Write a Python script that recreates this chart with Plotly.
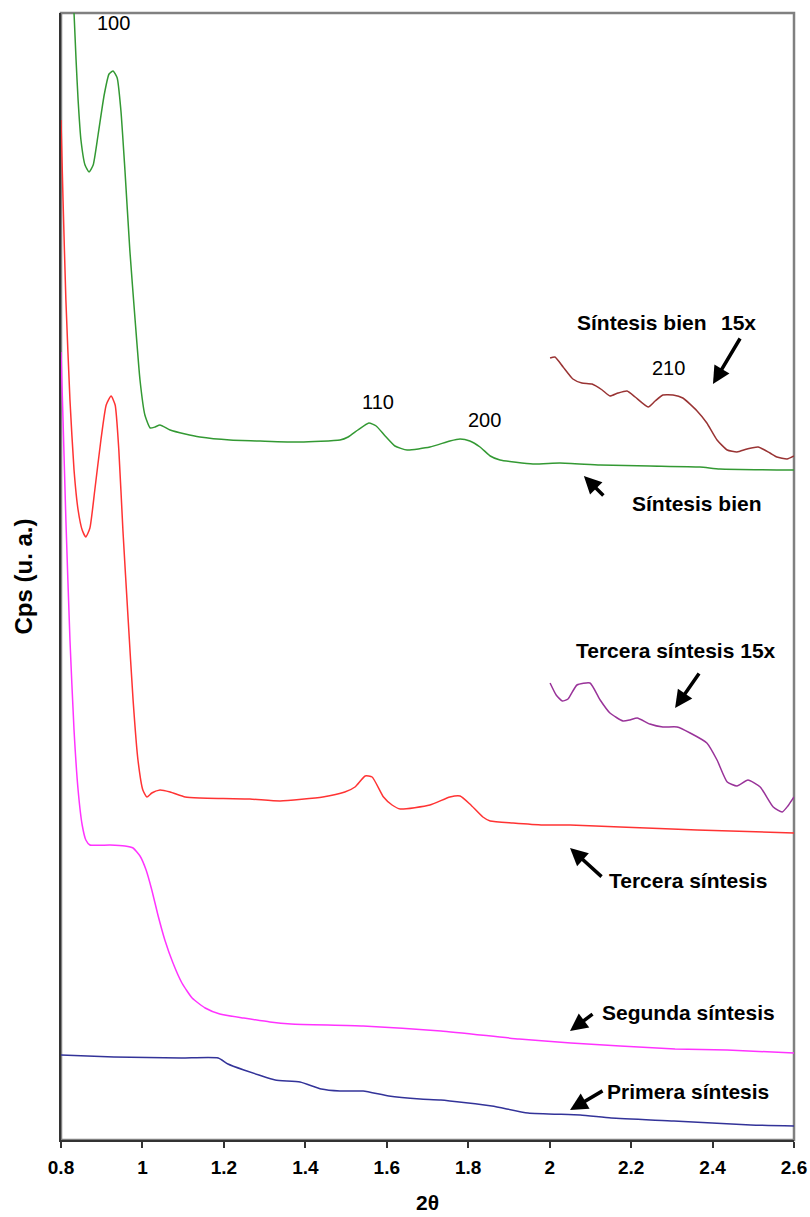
import plotly.graph_objects as go

# 2-theta values and intensities (arbitrary units)
bien_x = [0.832, 0.837, 0.842, 0.849, 0.859, 0.869, 0.879, 0.891, 0.906, 0.918, 0.928, 0.938,
          0.947, 0.957, 0.969, 0.982, 0.994, 1.006, 1.019, 1.031, 1.043, 1.068, 1.105, 1.141,
          1.215, 1.289, 1.387, 1.485, 1.505, 1.529, 1.556, 1.574, 1.596, 1.620, 1.650, 1.706,
          1.755, 1.780, 1.804, 1.829, 1.854, 1.878, 1.959, 2.025, 2.124, 2.246, 2.369, 2.418, 2.600]
bien_y = [1127, 1080, 1040, 1000, 975, 968, 975, 1005, 1045, 1066, 1069, 1062,
          1030, 970, 890, 820, 760, 725, 712, 713, 715, 710, 706, 703,
          700, 699, 698, 700, 703, 710, 717, 714, 704, 694, 690, 693,
          699, 701, 699, 693, 684, 680, 676, 677, 675, 674, 673, 671, 670]

tercera_x = [0.800, 0.805, 0.812, 0.822, 0.832, 0.842, 0.852, 0.861, 0.871, 0.883, 0.898, 0.911,
             0.923, 0.933, 0.942, 0.952, 0.965, 0.977, 0.989, 1.001, 1.011, 1.023, 1.043, 1.068,
             1.105, 1.141, 1.264, 1.338, 1.443, 1.497, 1.522, 1.547, 1.564, 1.592, 1.613, 1.633,
             1.706, 1.755, 1.780, 1.804, 1.836, 1.854, 1.910, 1.984, 2.050, 2.173, 2.362, 2.600]
tercera_y = [1020, 940, 840, 740, 670, 630, 610, 603, 612, 650, 700, 735,
             744, 735, 690, 610, 520, 440, 380, 350, 343, 347, 350, 348,
             343, 342, 341, 339, 343, 348, 353, 364, 363, 343, 335, 331,
             335, 343, 344, 336, 323, 319, 317, 315, 315, 313, 310, 307]

segunda_x = [0.800, 0.805, 0.812, 0.822, 0.832, 0.842, 0.852, 0.861, 0.871, 0.920, 0.957, 0.977,
             0.994, 1.009, 1.023, 1.038, 1.055, 1.075, 1.097, 1.122, 1.154, 1.190, 1.249, 1.313,
             1.365, 1.542, 1.733, 1.925, 2.052, 2.173, 2.308, 2.436, 2.600]
segunda_y = [788, 720, 620, 500, 410, 350, 315, 300, 295, 295, 294, 292,
             284, 270, 250, 225, 200, 177, 157, 142, 132, 126, 122, 118,
             116, 114, 109, 101, 97, 94, 91, 90, 87]

primera_x = [0.800, 0.930, 1.095, 1.186, 1.210, 1.249, 1.286, 1.326, 1.387, 1.439, 1.485, 1.542,
             1.605, 1.682, 1.733, 1.858, 1.947, 2.075, 2.151, 2.305, 2.494, 2.600]
primera_y = [85, 83, 82, 82, 76, 70, 65, 60, 58, 51, 49, 49,
             44, 41, 40, 34, 27, 25, 22, 19, 15, 14]

# 15x magnified tails
bien15_x = [2.001, 2.013, 2.033, 2.057, 2.079, 2.104, 2.129, 2.148, 2.168, 2.190, 2.210, 2.242,
            2.259, 2.278, 2.303, 2.327, 2.362, 2.386, 2.411, 2.436, 2.460, 2.485, 2.512, 2.541,
            2.558, 2.583, 2.600]
bien15_y = [782, 783, 773, 761, 757, 756, 750, 744, 747, 749, 743, 733,
            739, 745, 745, 742, 729, 717, 700, 690, 688, 691, 693, 687,
            683, 681, 684]

tercera15_x = [2.001, 2.016, 2.031, 2.045, 2.067, 2.099, 2.124, 2.148, 2.180, 2.197, 2.215, 2.246,
               2.278, 2.313, 2.345, 2.386, 2.411, 2.436, 2.460, 2.487, 2.517, 2.549, 2.571, 2.585,
               2.600]
tercera15_y = [457, 445, 439, 441, 455, 457, 440, 427, 419, 420, 422, 416,
               413, 413, 407, 397, 380, 358, 354, 360, 353, 333, 328, 334,
               343]

x_ticks = [0.8, 1.0, 1.2, 1.4, 1.6, 1.8, 2.0, 2.2, 2.4, 2.6]
x_tick_text = ['0.8', '1', '1.2', '1.4', '1.6', '1.8', '2', '2.2', '2.4', '2.6']

FONT = "Liberation Sans, Arial, sans-serif"

fig = go.Figure()

series = [
    (bien_x, bien_y, '#339933'),
    (tercera_x, tercera_y, '#FF3333'),
    (segunda_x, segunda_y, '#FF33FF'),
    (primera_x, primera_y, '#333399'),
    (bien15_x, bien15_y, '#993333'),
    (tercera15_x, tercera15_y, '#993399'),
]
for xs, ys, col in series:
    fig.add_trace(go.Scatter(
        x=xs, y=ys, mode='lines',
        line=dict(color=col, width=1.5, shape='spline', smoothing=0.5),
        showlegend=False, hoverinfo='skip'
    ))

# Peak indices (regular weight)
for txt, x, y in [('100', 0.928, 1117), ('110', 1.578, 738),
                  ('200', 1.839, 720), ('210', 2.293, 772)]:
    fig.add_annotation(x=x, y=y, text=txt, showarrow=False,
                       font=dict(family=FONT, size=20, color='black'))

# Series labels (bold)
for txt, x, y in [('Síntesis bien', 2.227, 818), ('15x', 2.463, 818),
                  ('Síntesis bien', 2.362, 637),
                  ('Tercera síntesis 15x', 2.310, 490),
                  ('Tercera síntesis', 2.340, 260),
                  ('Segunda síntesis', 2.340, 128),
                  ('Primera síntesis', 2.340, 49)]:
    fig.add_annotation(x=x, y=y, text='<b>' + txt + '</b>', showarrow=False,
                       font=dict(family=FONT, size=21, color='black'))

# Arrows: head at (x, y), tail offset (ax, ay) in pixels
for x, y, ax, ay in [(2.401, 756, 28, -47), (2.084, 664, 21, 21),
                     (2.308, 432, 25, -36), (2.050, 292, 33, 30),
                     (2.050, 109, 24, -18), (2.050, 30, 34, -20)]:
    fig.add_annotation(x=x, y=y, ax=ax, ay=ay, text='', showarrow=True,
                       arrowhead=2, arrowsize=1.0, arrowwidth=3.5, arrowcolor='black')

# gray frame on top and right
fig.add_shape(type='rect', xref='paper', yref='paper', x0=0, y0=0, x1=1, y1=1,
              line=dict(color='#808080', width=2.5), layer='below')

fig.update_layout(
    width=810, height=1217,
    margin=dict(l=61, r=16, t=13, b=77),
    paper_bgcolor='white', plot_bgcolor='white',
    xaxis=dict(
        range=[0.8, 2.6], tickvals=x_ticks, ticktext=x_tick_text,
        showgrid=False, zeroline=False, automargin=False,
        showline=True, linecolor='#333333', linewidth=2,
        ticks='outside', ticklen=6, tickwidth=1.5, tickcolor='#333333',
        ticklabelstandoff=3,
        tickfont=dict(family=FONT, size=19, color='black', weight='bold'),
        title=dict(text='<b>2θ</b>', font=dict(family=FONT, size=21, color='black'), standoff=19)
    ),
    yaxis=dict(
        range=[0, 1127], showticklabels=False, showgrid=False, zeroline=False,
        automargin=False,
        showline=True, linecolor='#333333', linewidth=2, ticks='',
        title=dict(text='<b>Cps (u. a.)</b>', font=dict(family=FONT, size=24, color='black'), standoff=20)
    ),
)

# drop the default 8px body margin so the figure fills the window exactly
fig.write_html("out.html", config={'displayModeBar': False},
               post_script="document.body.style.margin='0';")
